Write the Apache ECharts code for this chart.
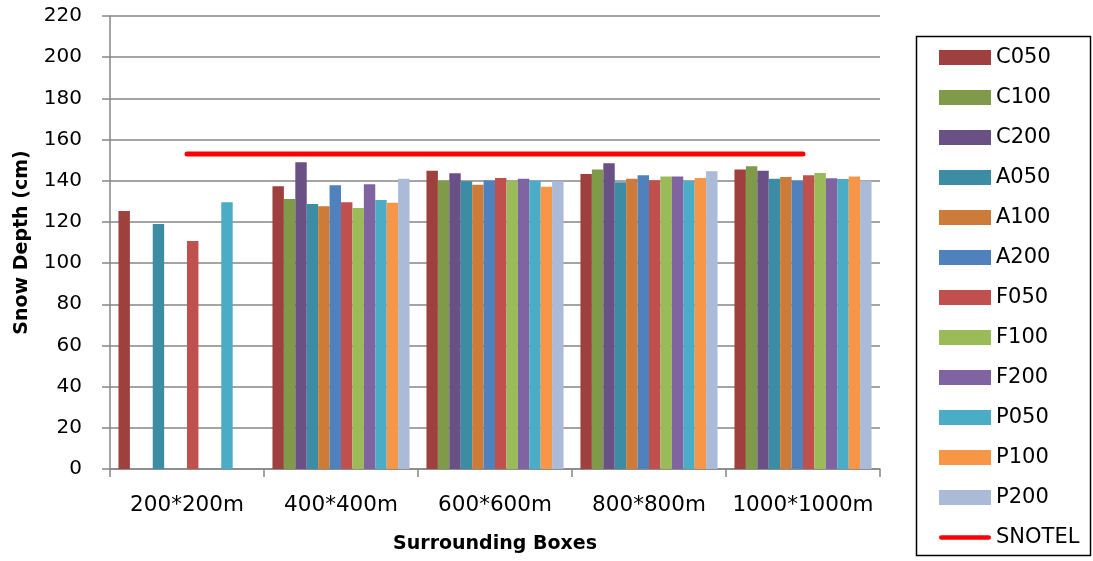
<!DOCTYPE html>
<html>
<head>
<meta charset="utf-8">
<script src="https://cdn.jsdelivr.net/npm/echarts@6/dist/echarts.min.js"></script>
<style>
html,body{margin:0;padding:0;background:#fff;}
#c{width:1093px;height:561px;}
</style>
</head>
<body>
<div id="c"></div>
<script>
var categories = ['200*200m', '400*400m', '600*600m', '800*800m', '1000*1000m'];
var yTicks = [0, 20, 40, 60, 80, 100, 120, 140, 160, 180, 200, 220];

var C050 = [125.3, 137.3, 144.9, 143.3, 145.4];
var C100 = [null, 131.1, 140.0, 145.5, 147.0];
var C200 = [null, 149.0, 143.6, 148.5, 144.9];
var A050 = [119.0, 128.7, 139.8, 139.2, 141.0];
var A100 = [null, 127.6, 138.1, 141.0, 141.8];
var A200 = [null, 137.8, 140.1, 142.6, 140.0];
var F050 = [110.7, 129.5, 141.3, 140.2, 142.6];
var F100 = [null, 126.8, 139.7, 142.0, 143.8];
var F200 = [null, 138.3, 141.0, 142.1, 141.2];
var P050 = [129.5, 130.6, 140.0, 139.7, 140.8];
var P100 = [null, 129.3, 137.1, 141.3, 142.0];
var P200 = [null, 141.0, 139.8, 144.6, 140.0];
var SNOTEL = [153, 153, 153, 153, 153];

var seriesNames = ['C050','C100','C200','A050','A100','A200','F050','F100','F200','P050','P100','P200'];
var seriesValues = [C050,C100,C200,A050,A100,A200,F050,F100,F200,P050,P100,P200];
var seriesColors = ['#9E413E','#7F9A48','#695185','#3C8DA3','#CC7B38','#4F81BD','#C0504D','#9BBB59','#8064A2','#4BACC6','#F79646','#AABAD7'];

var FONT = 'DejaVu Sans';

var series = seriesNames.map(function(n, i){
  return {
    name: n, type: 'bar', data: seriesValues[i],
    barGap: '0%', barCategoryGap: '11%',
    itemStyle: {color: seriesColors[i]},
    emphasis: {disabled: true}
  };
});
series.push({
  name: 'SNOTEL', type: 'line', data: SNOTEL,
  symbol: 'none', showSymbol: false,
  itemStyle: {color: '#FF0000'},
  lineStyle: {color: '#FF0000', width: 5, cap: 'round'},
  emphasis: {disabled: true},
  z: 10
});

var lineIcon = 'path://M0,0 L0.01,0 M2.5,5 L52.5,5 A2.5,2.5 0 0 1 52.5,10 L2.5,10 A2.5,2.5 0 0 1 2.5,5 Z M55,15 L54.99,15';
var legendData = seriesNames.map(function(n){ return {name: n, icon: 'rect'}; });
legendData.push({name: 'SNOTEL', icon: lineIcon, itemStyle: {color: '#FF0000', borderWidth: 0}});

var chart = echarts.init(document.getElementById('c'), null, {renderer: 'canvas'});
chart.setOption({
  animation: false,
  backgroundColor: '#fff',
  grid: {left: 110, right: 213, top: 16, bottom: 92, containLabel: false, outerBoundsMode: 'none'},
  legend: {
    type: 'plain', orient: 'vertical', left: 939, top: 47, height: 520, padding: 0,
    itemWidth: 52, itemHeight: 15, itemGap: 19,
    textStyle: {fontFamily: FONT, fontSize: 21, color: '#000', lineHeight: 20},
    data: legendData,
    selectedMode: false
  },
  graphic: [{
    type: 'rect', shape: {x: 916.5, y: 36.5, width: 174, height: 519},
    style: {fill: 'none', stroke: '#000', lineWidth: 1.5}, silent: true, z: -1
  }],
  xAxis: {
    type: 'category', data: categories,
    name: 'Surrounding Boxes', nameLocation: 'middle', nameGap: 66,
    nameTextStyle: {fontFamily: FONT, fontSize: 19, fontWeight: 'bold', color: '#000'},
    axisLine: {lineStyle: {color: '#868686', width: 1.5}},
    axisTick: {show: true, alignWithLabel: false, length: 8, lineStyle: {color: '#868686', width: 1.5}},
    axisLabel: {fontFamily: FONT, fontSize: 21.5, color: '#000', margin: 25, interval: 0}
  },
  yAxis: {
    type: 'value', min: 0, max: 220, interval: 20,
    name: 'Snow Depth (cm)', nameLocation: 'middle', nameGap: 78, nameRotate: 90,
    nameTextStyle: {fontFamily: FONT, fontSize: 19, fontWeight: 'bold', color: '#000'},
    axisLine: {show: true, lineStyle: {color: '#868686', width: 1.5}},
    axisTick: {show: true, length: 8, lineStyle: {color: '#868686', width: 1.5}},
    axisLabel: {fontFamily: FONT, fontSize: 20, color: '#000', margin: 28,
      formatter: function(v){ return yTicks.indexOf(v) >= 0 ? String(v) : ''; }},
    splitLine: {show: true, lineStyle: {color: '#868686', width: 1.5}}
  },
  series: series
});
</script>
</body>
</html>
